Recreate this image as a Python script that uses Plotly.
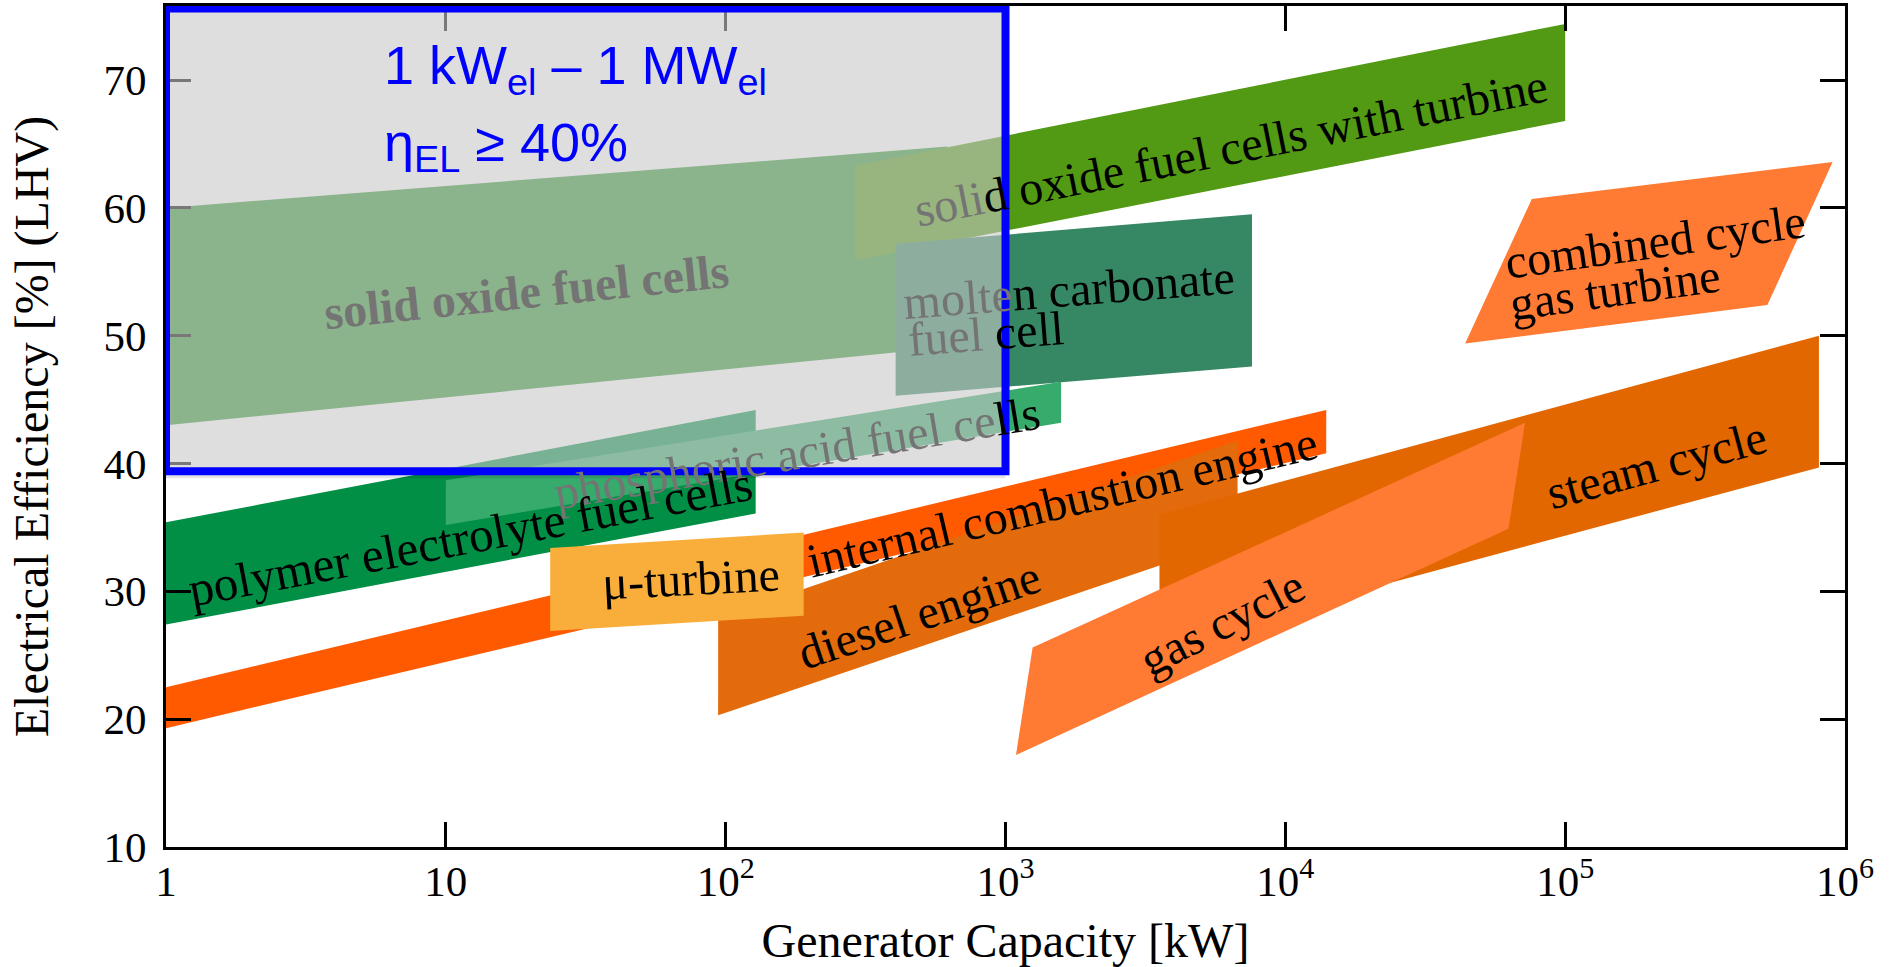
import math
import plotly.graph_objects as go

# ---------------- data (capacity in kW, efficiency in % LHV) ----------------
sofc_x = [1, 620, 620, 1]
sofc_y = [60.0, 64.8, 49.1, 43.0]

sofc_turbine_x = [290, 1e5, 1e5, 290]
sofc_turbine_y = [63.3, 74.4, 66.8, 55.9]

mcfc_x = [405, 7600, 7600, 405]
mcfc_y = [57.2, 59.5, 47.6, 45.3]

pefc_x = [1, 128, 128, 1]
pefc_y = [35.4, 44.2, 36.1, 27.4]

pafc_x = [10, 1580, 1580, 10]
pafc_y = [38.7, 46.4, 43.2, 35.2]

ice_x = [1, 14000, 14000, 1]
ice_y = [22.5, 44.2, 40.8, 19.3]

diesel_x = [94, 6750, 6750, 94]
diesel_y = [27.9, 41.8, 34.1, 20.3]

microturbine_x = [23.6, 190, 190, 23.6]
microturbine_y = [33.4, 34.6, 28.1, 26.9]

steam_x = [3550, 8.07e5, 8.07e5, 3550]
steam_y = [36.0, 50.0, 39.7, 25.8]

gas_x = [1090, 1250, 71900, 62700]
gas_y = [17.2, 25.6, 43.2, 34.9]

ccgt_x = [43900, 76000, 903000, 528000]
ccgt_y = [49.4, 60.7, 63.6, 52.4]

# highlighted range: 1 kW - 1 MW, efficiency >= ~40 %
box_x = [1, 1000]
box_y = [39.4, 75.6]

x_tickvals = [1, 10, 100, 1e3, 1e4, 1e5, 1e6]
x_ticktext = ["1", "10", "10<sup>2</sup>", "10<sup>3</sup>", "10<sup>4</sup>",
              "10<sup>5</sup>", "10<sup>6</sup>"]
y_tickvals = [10, 20, 30, 40, 50, 60, 70]

# ---------------- styles ----------------
SERIF = "Liberation Serif, Times New Roman, serif"
SANS = "Liberation Sans, Arial, sans-serif"
GRAY_TXT = "#747474"

bands = [
    (sofc_x, sofc_y, "rgb(50,150,50)"),
    (sofc_turbine_x, sofc_turbine_y, "#529a13"),
    (mcfc_x, mcfc_y, "#368763"),
    (pefc_x, pefc_y, "#008f45"),
    (pafc_x, pafc_y, "#37ab6c"),
    (ice_x, ice_y, "#ff5a00"),
    (diesel_x, diesel_y, "#e36b0c"),
    (microturbine_x, microturbine_y, "#f9ae3b"),
    (steam_x, steam_y, "#e36700"),
    (gas_x, gas_y, "#ff7a33"),
    (ccgt_x, ccgt_y, "#ff7a33"),
]

fig = go.Figure()
for xs, ys, col in bands:
    fig.add_trace(go.Scatter(
        x=xs + xs[:1], y=ys + ys[:1], mode="lines", fill="toself",
        fillcolor=col, line=dict(width=0, color=col),
        hoverinfo="skip", showlegend=False))


def g(t):
    return f'<span style="color:{GRAY_TXT}">{t}</span>'


# labels: (text, capacity kW, efficiency %, angle, colour, size)
labels = [
    ("<b>solid oxide fuel cells</b>", 19.5, 53.5, -6, GRAY_TXT, 48),
    (g("soli") + "d oxide fuel cells with turbine", 6400, 64.7, -11.3, "black", 48),
    (g("molte") + "n carbonate", 1693, 53.6, -4.5, "black", 48),
    (g("fuel ") + "cell", 853, 50.2, -4.5, "black", 48),
    (g("phosphoric acid fuel ce") + "lls", 180, 40.9, -9.5, "black", 48),
    ("polymer electrolyte fuel cells", 12.3, 34.3, -10.8, "black", 49),
    ("\u03bc-turbine", 75, 31.0, -3, "black", 48),
    ("internal combustion engine", 1600, 37.0, -13.3, "black", 48),
    ("diesel engine", 490, 28.2, -18.5, "black", 48),
    ("gas cycle", 5900, 27.6, -27, "black", 48),
    ("steam cycle", 212000, 39.9, -15, "black", 48),
    ("combined cycle", 209600, 57.4, -8, "black", 48),
    ("gas turbine", 150600, 53.6, -8, "black", 48),
]
for text, xk, yv, ang, col, sz in labels:
    fig.add_annotation(
        x=math.log10(xk), y=yv, xref="x", yref="y", text=text,
        textangle=ang, showarrow=False,
        font=dict(family=SERIF, size=sz, color=col))

# highlight box (semi-transparent gray overlay with blue border)
fig.add_shape(type="rect", xref="x", yref="y",
              x0=box_x[0], x1=box_x[1], y0=box_y[0] - 0.55, y1=box_y[0] - 0.2,
              fillcolor="rgba(0,0,0,0.10)", line=dict(width=0), layer="above")
fig.add_shape(type="rect", xref="x", yref="y",
              x0=box_x[0], x1=box_x[1], y0=box_y[0], y1=box_y[1],
              fillcolor="rgba(200,200,200,0.6)",
              line=dict(color="#0000ff", width=8), layer="above")

fig.add_annotation(xref="paper", yref="paper", x=0.1286, y=0.925,
                   xanchor="left", yanchor="middle", showarrow=False,
                   text="1 kW<sub>el</sub> \u2013 1 MW<sub>el</sub>",
                   font=dict(family=SANS, size=54, color="#0000ff"))
fig.add_annotation(xref="paper", yref="paper", x=0.1286, y=0.834,
                   xanchor="left", yanchor="middle", showarrow=False,
                   text="\u03b7<sub>EL</sub> \u2265 40%",
                   font=dict(family=SANS, size=54, color="#0000ff"))

axis_common = dict(
    showline=True, linewidth=3, linecolor="black", mirror="ticks",
    ticks="inside", ticklen=25, tickwidth=3, tickcolor="black",
    showgrid=False, zeroline=False, automargin=False,
    tickfont=dict(family=SERIF, size=43, color="black"),
)

fig.update_layout(
    width=1898, height=967,
    margin=dict(l=166, r=53, t=6, b=120),
    paper_bgcolor="white", plot_bgcolor="white",
    xaxis=dict(type="log", range=[0, 6], tickvals=x_tickvals, ticktext=x_ticktext,
               ticklabelstandoff=-6,
               title=dict(text="Generator Capacity [kW]",
                          font=dict(family=SERIF, size=48, color="black"),
                          standoff=27),
               **axis_common),
    yaxis=dict(range=[10, 75.8], tickvals=y_tickvals, ticklabelstandoff=8,
               title=dict(text="Electrical Efficiency [%] (LHV)",
                          font=dict(family=SERIF, size=48, color="black"),
                          standoff=40),
               **axis_common),
)

fig.write_html("out.html",
               config={"displayModeBar": False},
               post_script="document.body.style.margin='0';"
                           "document.body.style.overflow='hidden';")
